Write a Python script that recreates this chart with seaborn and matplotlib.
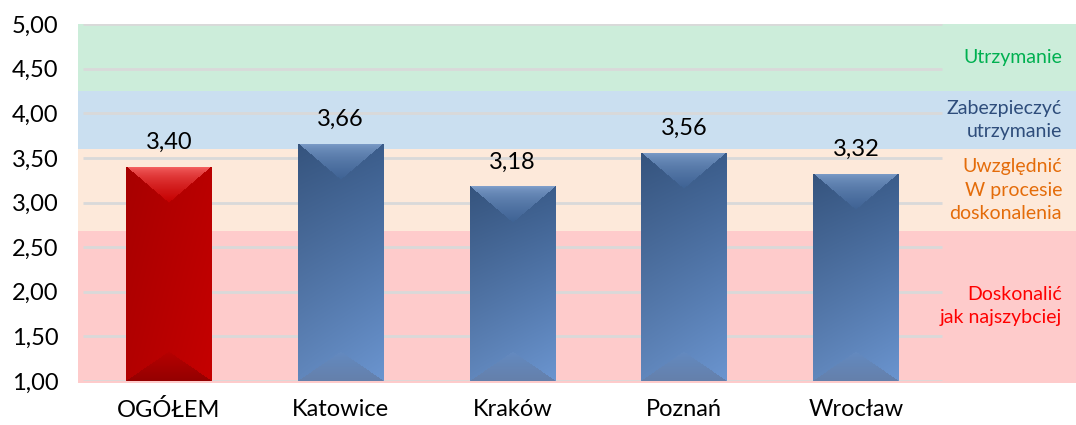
import numpy as np
import matplotlib
matplotlib.use("Agg")
import matplotlib.pyplot as plt
import matplotlib.transforms as mtransforms
import seaborn as sns
from matplotlib.colors import to_rgb

categories = ["OGÓŁEM", "Katowice", "Kraków", "Poznań", "Wrocław"]
scores = [3.40, 3.66, 3.18, 3.56, 3.32]
bar_colors = ["#B80000", "#4A70A5", "#4A70A5", "#4A70A5", "#4A70A5"]

y_ticks = [1.0, 1.5, 2.0, 2.5, 3.0, 3.5, 4.0, 4.5, 5.0]

zone_bounds = [1.0, 2.68, 3.6, 4.25, 5.0]
zone_fills = ["#FECBCB", "#FDE9DA", "#CADFF0", "#CCEDDA"]
zone_labels = ["Doskonalić\njak najszybciej", "Uwzględnić\nW procesie\ndoskonalenia",
               "Zabezpieczyć\nutrzymanie", "Utrzymanie"]
zone_text_colors = ["#FF0000", "#E46C0A", "#2E4D7B", "#00B050"]

# bevel shading per base colour: face top, face bottom, top highlight, bottom edge
shades = {
    "#B80000": ("#B00000", "#BC0000", "#FF7878", "#940000"),
    "#4A70A5": ("#385884", "#668EC6", "#88A7D2", "#6580AB"),
}


def add_bevel(ax, patch, colors):
    x0, w = patch.get_x(), patch.get_width()
    y_lo = max(patch.get_y(), ax.get_ylim()[0])
    y_hi = patch.get_y() + patch.get_height()
    (px0, py0), (px1, py1) = ax.transData.transform([(x0, y_lo), (x0 + w, y_hi)])
    nx, ny = int(round(px1 - px0)), int(round(py1 - py0))
    X, Y = np.meshgrid(np.arange(nx) + 0.5, np.arange(ny) + 0.5)
    d_side = np.minimum(X, nx - X)
    d_top, d_bot = Y, ny - Y
    top_k, bot_k = 0.85, 0.68
    face_top, face_bot, hi, lo = [np.array(to_rgb(c)) for c in colors]
    t = (Y / ny)[..., None]
    img = face_top * (1 - t) + face_bot * t
    img = img * (0.95 + 0.1 * X / nx)[..., None]
    top = d_top < d_side * top_k
    f = np.clip(d_top / (nx / 2 * top_k), 0, 1)[..., None]
    f = np.sqrt(f)
    img = np.where(top[..., None], hi * (1 - f) + face_top * 1.12 * f, img)
    bot = (d_bot < d_side * bot_k) & ~top
    g = np.clip(d_bot / (nx / 2 * bot_k), 0, 1)[..., None]
    img = np.where(bot[..., None], lo * (1 - g) + face_bot * 0.97 * g, img)
    img = np.clip(img, 0, 1)
    im = ax.imshow(img, extent=(x0, x0 + w, y_lo, y_hi), origin="upper",
                   aspect="auto", zorder=3, interpolation="bilinear")
    im.set_clip_path(patch)


sns.set_style("white")
plt.rcParams["font.family"] = ["Lato", "DejaVu Sans"]

fig = plt.figure(figsize=(10.76, 4.25), dpi=100)
ax = fig.add_axes([78 / 1076, 44 / 425, 998 / 1076, 357 / 425])

sns.barplot(x=categories, y=scores, hue=categories, palette=bar_colors,
            width=0.5, legend=False, ax=ax, zorder=2, linewidth=0)

x_lim = (-0.529, 5.28)
y_lim = (1.0, 5.0)
ax.set_xlim(*x_lim)
ax.set_ylim(*y_lim)

# coloured zones, spilling to the figure edge
for i in range(len(zone_fills)):
    lo = zone_bounds[i] - (0.025 if i == 0 else 0)
    ax.axhspan(lo, zone_bounds[i + 1], color=zone_fills[i], lw=0, zorder=0, clip_on=False)
    mid = (zone_bounds[i] + zone_bounds[i + 1]) / 2
    trans = mtransforms.blended_transform_factory(ax.transAxes, ax.transData)
    ax.text(0.986, mid, zone_labels[i], transform=trans, ha="right", va="center",
            color=zone_text_colors[i], fontsize=14, linespacing=1.45)

ax.hlines(y_ticks, -0.5, len(categories) - 0.5, color="#D9D9D9", lw=2, zorder=1)

for patch, c in zip(ax.patches, bar_colors):
    add_bevel(ax, patch, shades[c])

for cont in ax.containers:
    ax.bar_label(cont, labels=[f"{v:.2f}".replace(".", ",") for v in cont.datavalues],
                 padding=10, fontsize=17, color="#000000")

ax.set_xlim(*x_lim)
ax.set_ylim(*y_lim)
ax.set_yticks(y_ticks)
ax.set_yticklabels([f"{t:.2f}".replace(".", ",") for t in y_ticks])
ax.tick_params(axis="y", length=0, pad=14, labelsize=17, colors="#000000")
ax.tick_params(axis="x", length=0, pad=13, labelsize=17, colors="#000000")
ax.set_xlabel("")
ax.set_ylabel("")
for s in ax.spines.values():
    s.set_visible(False)

fig.savefig("out.png", dpi=100)
